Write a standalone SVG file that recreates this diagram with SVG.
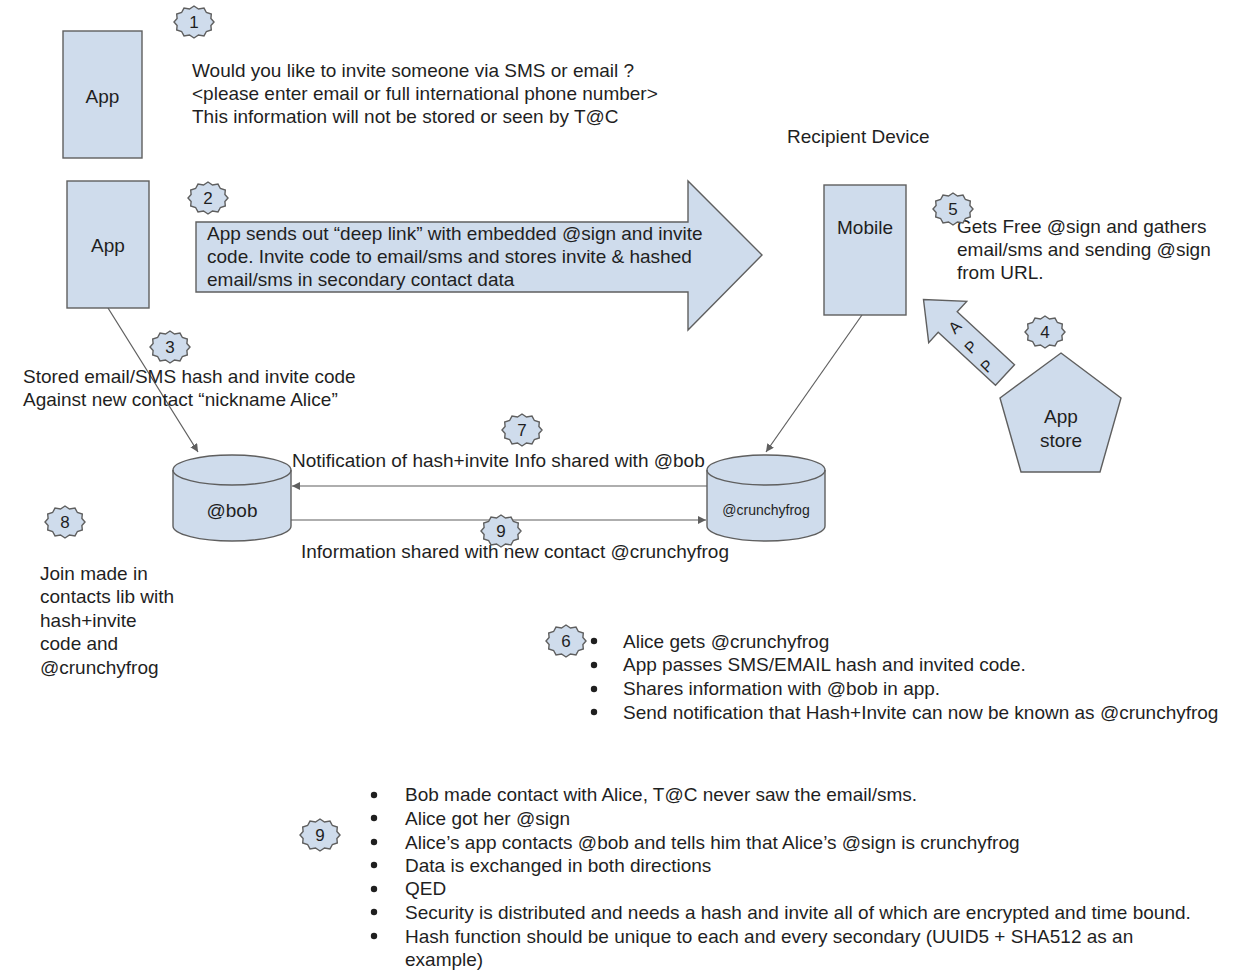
<svg xmlns="http://www.w3.org/2000/svg" xmlns:xlink="http://www.w3.org/1999/xlink" width="1240" height="978" viewBox="0 0 1240 978">
<style>
  .shape { fill: #cfdcec; stroke: #5f5f5f; stroke-width: 1.4; }
  .t { font-family: "Liberation Sans", Arial, sans-serif; font-size: 19px; fill: #1f1f1f; }
  .c { text-anchor: middle; }
  .num { font-family: "Liberation Sans", Arial, sans-serif; font-size: 17px; fill: #1f1f1f; text-anchor: middle; }
  .conn { stroke: #5f5f5f; stroke-width: 1.2; fill: none; }
  .dot { fill: #1f1f1f; }
  .rot { font-family: "Liberation Sans", Arial, sans-serif; font-size: 16px; fill: #1f1f1f; text-anchor: middle; }
</style>
<defs>
  <polygon id="seal" points="20,0 16.9,3.5 17.3,8 12.4,9.5 10,13.9 4.5,13 0,16 -4.5,13 -10,13.9 -12.4,9.5 -17.3,8 -16.9,3.5 -20,0 -16.9,-3.5 -17.3,-8 -12.4,-9.5 -10,-13.9 -4.5,-13 0,-16 4.5,-13 10,-13.9 12.4,-9.5 17.3,-8 16.9,-3.5" class="shape"/>
  <marker id="ah" markerUnits="userSpaceOnUse" markerWidth="9" markerHeight="9" refX="8" refY="4" orient="auto">
    <path d="M0,0 L8,4 L0,8 z" fill="#5f5f5f"/>
  </marker>
</defs>
<rect width="1240" height="978" fill="#ffffff"/>

<g id="connectors">
  <line class="conn" x1="108" y1="308" x2="198" y2="452" marker-end="url(#ah)"/>
  <line class="conn" x1="862" y1="315" x2="766" y2="452" marker-end="url(#ah)"/>
  <line class="conn" x1="707" y1="486" x2="292" y2="486" marker-end="url(#ah)"/>
  <line class="conn" x1="291" y1="520" x2="706" y2="520" marker-end="url(#ah)"/>
</g>

<g id="app1">
  <rect class="shape" x="63" y="31" width="79" height="127"/>
  <text class="t c" x="102.5" y="103">App</text>
</g>

<g id="step1-text">
  <text class="t" x="192" y="77">Would you like to invite someone via SMS or email ?</text>
  <text class="t" x="192" y="100">&lt;please enter email or full international phone number&gt;</text>
  <text class="t" x="192" y="123">This information will not be stored or seen by T@C</text>
</g>

<g id="app2">
  <rect class="shape" x="67" y="181" width="82" height="127"/>
  <text class="t c" x="108" y="252">App</text>
</g>

<g id="deep-link-arrow">
  <polygon class="shape" points="196,222 688,222 688,181 762,255 688,330 688,292 196,292"/>
  <text class="t" x="207" y="240">App sends out “deep link” with embedded @sign and invite</text>
  <text class="t" x="207" y="263">code. Invite code to email/sms and stores invite &amp; hashed</text>
  <text class="t" x="207" y="286">email/sms in secondary contact data</text>
</g>

<g id="recipient-label">
  <text class="t" x="787" y="143">Recipient Device</text>
</g>

<g id="mobile">
  <rect class="shape" x="824" y="185" width="82" height="130"/>
  <text class="t c" x="865" y="234">Mobile</text>
</g>

<g id="step5-text">
  <text class="t" x="957" y="233">Gets Free @sign and gathers</text>
  <text class="t" x="957" y="256">email/sms and sending @sign</text>
  <text class="t" x="957" y="279">from URL.</text>
</g>

<g id="app-arrow">
  <polygon class="shape" points="1014.5,364.7 957.2,311.7 966.7,301.4 923.5,299.6 928.7,342.6 938.2,332.3 995.5,385.3"/>
  <text class="rot" transform="translate(955,327) rotate(-45)" dominant-baseline="central">A</text>
  <text class="rot" transform="translate(971,347) rotate(-45)" dominant-baseline="central">P</text>
  <text class="rot" transform="translate(987,366) rotate(-45)" dominant-baseline="central">P</text>
</g>

<g id="app-store">
  <polygon class="shape" points="1061,353 1121,398 1100,472 1021,472 1000,398"/>
  <text class="t c" x="1061" y="423">App</text>
  <text class="t c" x="1061" y="447">store</text>
</g>

<g id="step3-text">
  <text class="t" x="23" y="383">Stored email/SMS hash and invite code</text>
  <text class="t" x="23" y="406">Against new contact “nickname Alice”</text>
</g>

<g id="bob">
  <path class="shape" d="M173,470 A59,15 0 0 1 291,470 L291,526 A59,15 0 0 1 173,526 Z"/>
  <path class="conn" d="M173,470 A59,15 0 0 0 291,470" style="stroke-width:1.4"/>
  <text class="t c" x="232" y="517">@bob</text>
</g>

<g id="crunchyfrog">
  <path class="shape" d="M707,470 A59,15 0 0 1 825,470 L825,526 A59,15 0 0 1 707,526 Z"/>
  <path class="conn" d="M707,470 A59,15 0 0 0 825,470" style="stroke-width:1.4"/>
  <text class="t c" x="766" y="515" style="font-size:14px">@crunchyfrog</text>
</g>

<g id="edge-labels">
  <text class="t" x="292" y="467">Notification of hash+invite Info shared with @bob</text>
  <text class="t" x="301" y="558">Information shared with new contact @crunchyfrog</text>
</g>

<g id="step8-text">
  <text class="t" x="40" y="580">Join made in</text>
  <text class="t" x="40" y="603">contacts lib with</text>
  <text class="t" x="40" y="627">hash+invite</text>
  <text class="t" x="40" y="650">code and</text>
  <text class="t" x="40" y="674">@crunchyfrog</text>
</g>

<g id="step6-list">
  <circle class="dot" cx="594" cy="641" r="3.2"/>
  <circle class="dot" cx="594" cy="665" r="3.2"/>
  <circle class="dot" cx="594" cy="689" r="3.2"/>
  <circle class="dot" cx="594" cy="712" r="3.2"/>
  <text class="t" x="623" y="648">Alice gets @crunchyfrog</text>
  <text class="t" x="623" y="671">App passes SMS/EMAIL hash and invited code.</text>
  <text class="t" x="623" y="695">Shares information with @bob in app.</text>
  <text class="t" x="623" y="719">Send notification that Hash+Invite can now be known as @crunchyfrog</text>
</g>

<g id="summary-list">
  <circle class="dot" cx="374" cy="795" r="3.2"/>
  <circle class="dot" cx="374" cy="818" r="3.2"/>
  <circle class="dot" cx="374" cy="842" r="3.2"/>
  <circle class="dot" cx="374" cy="865" r="3.2"/>
  <circle class="dot" cx="374" cy="889" r="3.2"/>
  <circle class="dot" cx="374" cy="912" r="3.2"/>
  <circle class="dot" cx="374" cy="936" r="3.2"/>
  <text class="t" x="405" y="801">Bob made contact with Alice, T@C never saw the email/sms.</text>
  <text class="t" x="405" y="825">Alice got her @sign</text>
  <text class="t" x="405" y="849">Alice’s app contacts @bob and tells him that Alice’s @sign is crunchyfrog</text>
  <text class="t" x="405" y="872">Data is exchanged in both directions</text>
  <text class="t" x="405" y="895">QED</text>
  <text class="t" x="405" y="919">Security is distributed and needs a hash and invite all of which are encrypted and time bound.</text>
  <text class="t" x="405" y="943">Hash function should be unique to each and every secondary (UUID5 + SHA512 as an</text>
  <text class="t" x="405" y="966">example)</text>
</g>

<g id="badge-1"><use xlink:href="#seal" href="#seal" transform="translate(194,22)"/><text class="num" x="194" y="28">1</text></g>
<g id="badge-2"><use xlink:href="#seal" href="#seal" transform="translate(208,198)"/><text class="num" x="208" y="204">2</text></g>
<g id="badge-3"><use xlink:href="#seal" href="#seal" transform="translate(170,347)"/><text class="num" x="170" y="353">3</text></g>
<g id="badge-4"><use xlink:href="#seal" href="#seal" transform="translate(1045,332)"/><text class="num" x="1045" y="338">4</text></g>
<g id="badge-5"><use xlink:href="#seal" href="#seal" transform="translate(953,209)"/><text class="num" x="953" y="215">5</text></g>
<g id="badge-6"><use xlink:href="#seal" href="#seal" transform="translate(566,641)"/><text class="num" x="566" y="647">6</text></g>
<g id="badge-7"><use xlink:href="#seal" href="#seal" transform="translate(522,430)"/><text class="num" x="522" y="436">7</text></g>
<g id="badge-8"><use xlink:href="#seal" href="#seal" transform="translate(65,522)"/><text class="num" x="65" y="528">8</text></g>
<g id="badge-9a"><use xlink:href="#seal" href="#seal" transform="translate(501,531)"/><text class="num" x="501" y="537">9</text></g>
<g id="badge-9b"><use xlink:href="#seal" href="#seal" transform="translate(320,835)"/><text class="num" x="320" y="841">9</text></g>
</svg>
